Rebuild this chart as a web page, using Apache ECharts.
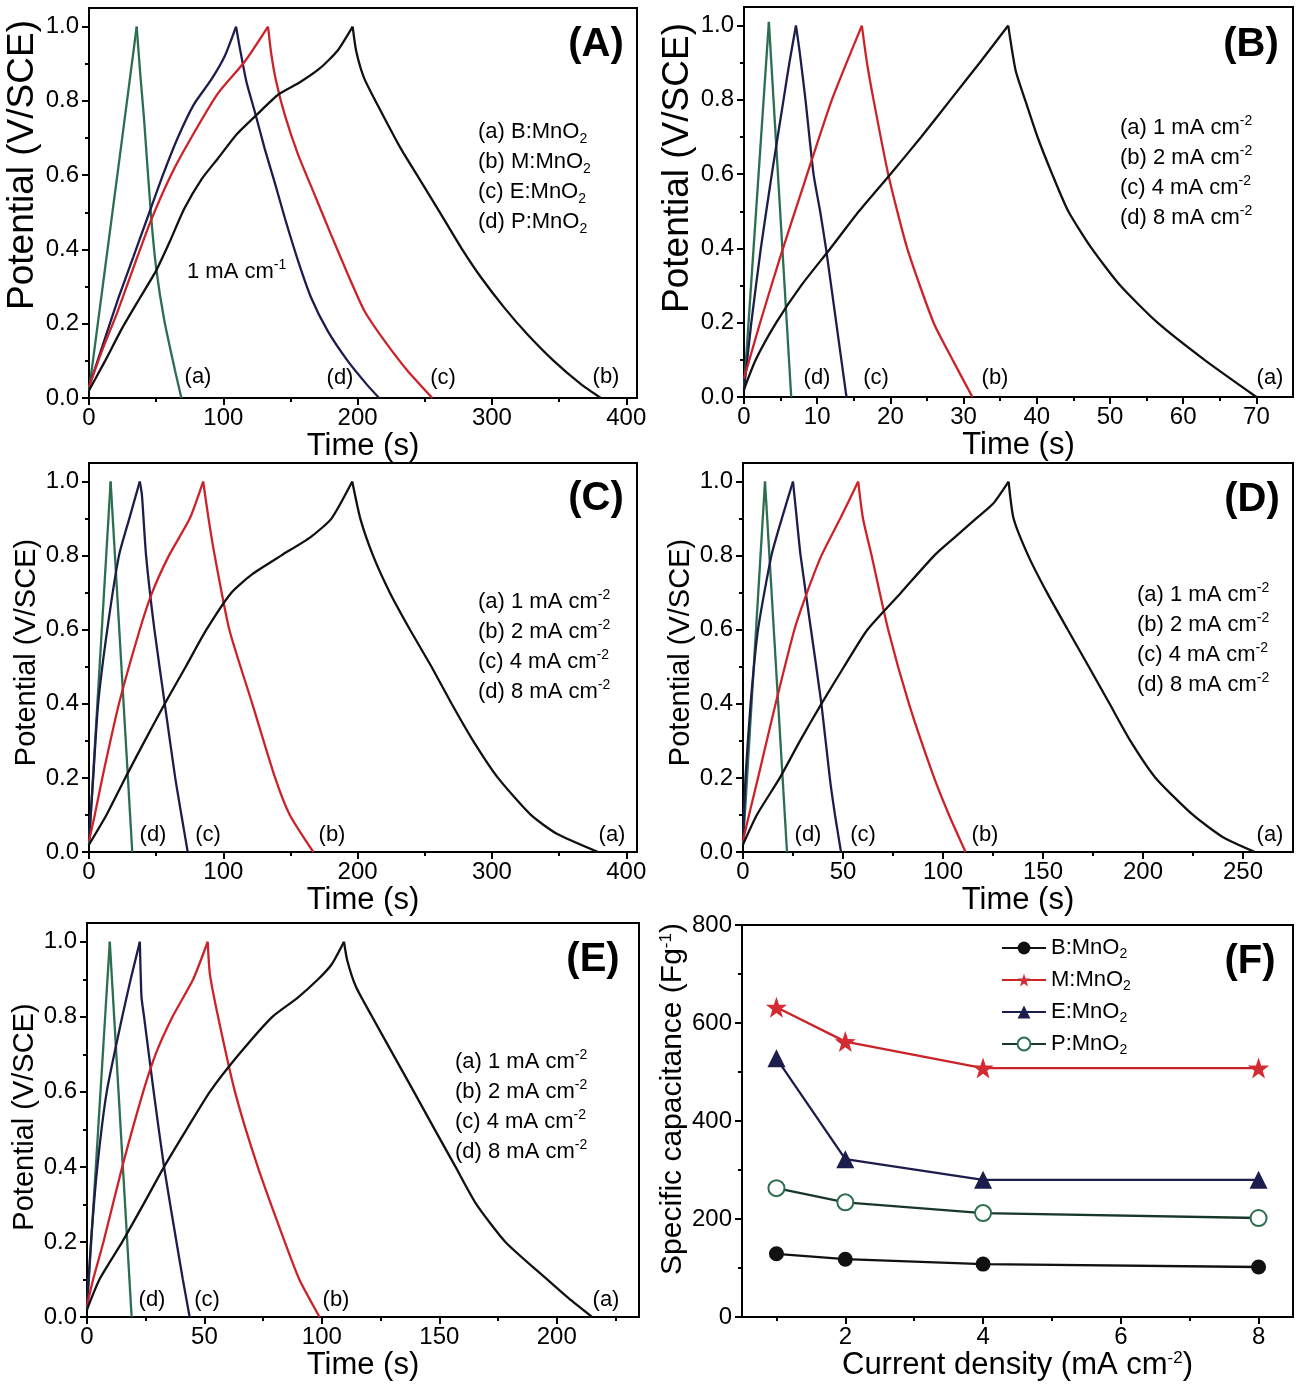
<!DOCTYPE html>
<html>
<head>
<meta charset="utf-8">
<script src="https://cdn.jsdelivr.net/npm/echarts@6/dist/echarts.min.js"></script>
<style>
html, body { margin: 0; padding: 0; background: #fff; }
#chart { width: 1301px; height: 1392px; }
</style>
</head>
<body>
<div id="chart"></div>
<script>
'use strict';

// ---- data: galvanostatic charge/discharge curves [time (s), potential (V)] ----
// (A) different MnO2 samples at 1 mA cm-1
var gcdA_a = [[0,0.02],[12,0.35],[24,0.68],[35.5,1.0],[38,0.88],[41,0.75],[46,0.5],[50,0.35],[56,0.21],[64,0.075],[68.8,0]];
var gcdA_b = [[0,0.02],[12,0.1],[25,0.19],[38,0.27],[50,0.343],[60,0.42],[71,0.51],[84,0.59],[96,0.645],[110,0.71],[125,0.763],[141,0.817],[157,0.85],[172,0.888],[185,0.935],[196.3,1.0],[199,0.933],[205,0.86],[217.6,0.77],[232.4,0.67],[247,0.584],[262,0.495],[277,0.405],[291.8,0.325],[309,0.244],[326,0.173],[346,0.10],[366,0.038],[381,0]];
var gcdA_c = [[0,0.03],[10,0.13],[21,0.23],[34,0.36],[46,0.477],[61,0.6],[76,0.7],[96,0.82],[116,0.906],[133.3,1.0],[135.8,0.924],[139.5,0.85],[145.7,0.763],[155.6,0.656],[167.9,0.548],[180.2,0.44],[192.6,0.334],[205,0.235],[219.8,0.155],[237,0.074],[255.6,0]];
var gcdA_d = [[0,0.03],[10,0.14],[22,0.27],[33,0.38],[44,0.49],[55,0.6],[66,0.7],[78,0.79],[91,0.857],[101,0.92],[109.5,1.0],[112.4,0.94],[117.3,0.85],[123.5,0.77],[130.9,0.67],[138.3,0.58],[145.7,0.486],[155.6,0.37],[165.4,0.27],[177.8,0.18],[192.6,0.10],[207.4,0.034],[216,0]];
// (B) B:MnO2 at 1, 2, 4, 8 mA cm-2
var gcdB_a = [[0,0.02],[1.6,0.1],[4.4,0.2],[7.8,0.3],[11.8,0.4],[15.7,0.5],[20,0.6],[24.2,0.7],[28.2,0.8],[32.2,0.9],[36.1,1.0],[37.1,0.88],[38.4,0.8],[40.1,0.7],[42.1,0.6],[44.3,0.5],[47.5,0.4],[51.4,0.3],[56.5,0.2],[62.9,0.1],[70,0]];
var gcdB_b = [[0,0.05],[2.2,0.2],[5,0.38],[8.3,0.58],[12,0.8],[16.1,1.0],[16.8,0.9],[17.7,0.8],[19.7,0.6],[22.3,0.4],[25.9,0.2],[28.5,0.1],[31.2,0]];
var gcdB_c = [[0,0.02],[1.0,0.2],[2.3,0.4],[3.8,0.6],[5.4,0.8],[6.2,0.9],[7.1,1.0],[7.6,0.93],[8.4,0.8],[9.5,0.6],[10.4,0.5],[11.2,0.4],[12.6,0.2],[13.3,0.1],[14.0,0]];
var gcdB_d = [[0,0.02],[3.4,1.01],[6.45,0]];
// (C) M:MnO2
var gcdC_a = [[0,0.02],[13,0.1],[27,0.2],[41.5,0.3],[56.4,0.4],[72,0.5],[87.4,0.6],[106,0.7],[121.6,0.75],[143,0.8],[165,0.85],[180.5,0.9],[196,1.0],[202,0.9],[211.5,0.8],[224,0.7],[239,0.6],[255,0.5],[270,0.4],[286,0.3],[304.5,0.2],[329,0.1],[348,0.05],[379,0]];
var gcdC_b = [[0,0.03],[4.3,0.1],[9.9,0.2],[22.3,0.4],[37.8,0.6],[47,0.7],[59.5,0.8],[75,0.9],[85,1.0],[89,0.9],[93.6,0.8],[104.5,0.6],[121.6,0.4],[138.6,0.2],[149.5,0.1],[167,0]];
var gcdC_c = [[0,0.03],[3.1,0.2],[6.8,0.4],[13.6,0.6],[22.3,0.8],[30,0.9],[37.8,1.0],[39.4,0.964],[42.5,0.8],[48.7,0.6],[56.4,0.4],[64.2,0.2],[68.8,0.1],[73.5,0]];
var gcdC_d = [[0,0.02],[16.1,1.0],[32.2,0]];
// (D) E:MnO2
var gcdD_a = [[0,0.02],[6.9,0.1],[18.4,0.2],[28.5,0.3],[39.2,0.4],[50.5,0.5],[62.2,0.6],[79,0.7],[95.6,0.8],[106,0.85],[116.5,0.9],[125,0.94],[132.8,1.0],[135.3,0.9],[142.6,0.8],[152,0.7],[162.4,0.6],[172.9,0.5],[183.3,0.4],[193.7,0.3],[206.3,0.2],[225,0.1],[240,0.04],[256,0]];
var gcdD_b = [[0,0.03],[3,0.1],[7.5,0.2],[16.3,0.4],[25.7,0.6],[32,0.7],[39.2,0.8],[48.6,0.9],[57.6,1.0],[60,0.9],[64.3,0.8],[72.6,0.6],[83,0.4],[95.6,0.2],[103,0.1],[111.3,0]];
var gcdD_c = [[0,0.03],[1.25,0.2],[3.8,0.4],[7.5,0.6],[14.2,0.8],[19.4,0.9],[25,1.0],[26.5,0.92],[28.8,0.8],[34,0.6],[39.2,0.4],[43.4,0.2],[46,0.1],[49,0]];
var gcdD_d = [[0,0.02],[11,1.0],[22,0]];
// (E) P:MnO2
var gcdE_a = [[0,0.02],[5.3,0.1],[15,0.2],[24,0.3],[32.8,0.4],[42.4,0.5],[52.3,0.6],[64.7,0.7],[78.9,0.8],[89.5,0.85],[98.4,0.9],[104.2,0.94],[109.4,1.0],[110.8,0.95],[114.5,0.88],[121.4,0.8],[130.3,0.7],[139.2,0.6],[148,0.5],[156.9,0.4],[165.8,0.3],[178.1,0.2],[195.9,0.1],[205,0.05],[215,0]];
var gcdE_b = [[0,0.03],[2.6,0.1],[7,0.2],[15,0.4],[23.9,0.6],[29.2,0.7],[36.4,0.8],[45.2,0.9],[51.4,1.0],[52.3,0.915],[55.8,0.8],[63,0.6],[72.7,0.4],[84.2,0.2],[90.4,0.1],[99,0]];
var gcdE_c = [[0,0.03],[1.7,0.2],[4.4,0.4],[8.4,0.6],[15,0.8],[18.6,0.9],[22.5,1.0],[23.2,0.853],[24.3,0.8],[28.4,0.6],[32.8,0.4],[38.1,0.2],[40.8,0.1],[43.7,0]];
var gcdE_d = [[0,0.02],[9.7,1.0],[19,0]];

// (F) specific capacitance vs current density
var currentDensity = [1, 2, 4, 8];
var capB = [129, 118, 108, 102];
var capM = [632, 562, 508, 508];
var capE = [528, 322, 280, 280];
var capP = [263, 234, 212, 202];
var sampleNames = ['B:MnO2', 'M:MnO2', 'E:MnO2', 'P:MnO2'];

// tick values
var potTicks = [0, 0.2, 0.4, 0.6, 0.8, 1.0], potMinor = [0.1, 0.3, 0.5, 0.7, 0.9];
var timeTicksA = [0, 100, 200, 300, 400], timeMinorA = [50, 150, 250, 350];
var timeTicksB = [0, 10, 20, 30, 40, 50, 60, 70], timeMinorB = [5, 15, 25, 35, 45, 55, 65];
var timeTicksD = [0, 50, 100, 150, 200, 250], timeMinorD = [25, 75, 125, 175, 225];
var timeTicksE = [0, 50, 100, 150, 200], timeMinorE = [25, 75, 125, 175, 225];
var cdTicks = [2, 4, 6, 8], cdMinor = [1, 3, 5, 7];
var capTicks = [0, 200, 400, 600, 800], capMinor = [100, 300, 500, 700];

// legend / annotation texts
var legendSamples = ['(a) B:MnO{sub|2}', '(b) M:MnO{sub|2}', '(c) E:MnO{sub|2}', '(d) P:MnO{sub|2}'];
var legendRates = ['(a) 1 mA cm{sup|-2}', '(b) 2 mA cm{sup|-2}', '(c) 4 mA cm{sup|-2}', '(d) 8 mA cm{sup|-2}'];

var FONT = '"Liberation Sans", Arial, Helvetica, sans-serif';
var GREEN = '#2c6e50', NAVY = '#1d1d4d', RED = '#cc2229', BLACK = '#111111';

var grids = [], xAxes = [], yAxes = [], series = [], graphics = [];

var nameRich = {
	sup: { fontSize: 17, lineHeight: 16, verticalAlign: 'top', color: '#000', fontFamily: FONT }
};

function addAxis(list, gi, isX, range, major, minor, name, nameSize, nameGap, namePad, fmt) {
	var pos = isX ? 'bottom' : 'left';
	var idx = list.length;
	list.push({
		type: 'value', gridIndex: gi, position: pos, min: range[0], max: range[1],
		axisLine: { onZero: false, lineStyle: { color: '#000', width: 2 } },
		axisTick: { customValues: major, length: 7, lineStyle: { color: '#000', width: 2 } },
		axisLabel: { customValues: major, formatter: fmt, color: '#000', fontSize: 24, fontFamily: FONT, margin: isX ? 8 : 10 },
		splitLine: { show: false },
		name: name, nameLocation: 'middle', nameGap: nameGap, nameRotate: isX ? 0 : 90,
		nameTextStyle: { fontSize: nameSize, fontFamily: FONT, color: '#000', padding: namePad, rich: nameRich }
	});
	list.push({
		type: 'value', gridIndex: gi, position: pos, min: range[0], max: range[1],
		axisLine: { show: false },
		axisTick: { customValues: minor, length: 4, lineStyle: { color: '#000', width: 2 } },
		axisLabel: { show: false },
		splitLine: { show: false }
	});
	return idx;
}

function addGrid(box) {
	grids.push({ left: box[0], top: box[1], width: box[2], height: box[3], show: true,
		borderColor: '#000', borderWidth: 2, backgroundColor: 'transparent', containLabel: false });
	return grids.length - 1;
}

var potFmt = function (v) { return v.toFixed(1); };

// each curve is drawn as two smooth segments (charge / discharge) split at its peak
function gcdPanel(box, xMax, xTicks, xMinor, yNameSize, yPad, curves) {
	var gi = addGrid(box);
	var xi = addAxis(xAxes, gi, true, [0, xMax], xTicks, xMinor, 'Time (s)', 31, 18, [0, 0, 0, 0]);
	var yi = addAxis(yAxes, gi, false, [0, 1.05], potTicks, potMinor, 'Potential (V/SCE)', yNameSize, 46, yPad, potFmt);
	curves.forEach(function (c) {
		var pts = c[0], k = 0;
		pts.forEach(function (p, i) { if (p[1] > pts[k][1]) k = i; });
		[pts.slice(0, k + 1), pts.slice(k)].forEach(function (seg) {
			series.push({
				type: 'line', xAxisIndex: xi, yAxisIndex: yi, data: seg,
				showSymbol: false, symbol: 'none', smooth: 0.2,
				lineStyle: { color: c[1], width: 2.3 }, silent: true, z: 3
			});
		});
	});
}

gcdPanel([89, 8, 548, 390], 408, timeTicksA, timeMinorA, 37, [0, 0, 0, 76],
	[[gcdA_a, GREEN], [gcdA_d, NAVY], [gcdA_c, RED], [gcdA_b, BLACK]]);
gcdPanel([744, 7, 549, 390], 75, timeTicksB, timeMinorB, 37, [0, 0, 0, 68],
	[[gcdB_d, GREEN], [gcdB_c, NAVY], [gcdB_b, RED], [gcdB_a, BLACK]]);
gcdPanel([89, 463, 548, 389], 408, timeTicksA, timeMinorA, 29, [0, 0, 0, 10],
	[[gcdC_d, GREEN], [gcdC_c, NAVY], [gcdC_b, RED], [gcdC_a, BLACK]]);
gcdPanel([743, 463, 550, 389], 275, timeTicksD, timeMinorD, 29, [0, 0, 0, 10],
	[[gcdD_d, GREEN], [gcdD_c, NAVY], [gcdD_b, RED], [gcdD_a, BLACK]]);
gcdPanel([87, 923, 552, 394], 235, timeTicksE, timeMinorE, 29, [0, 0, 0, 6],
	[[gcdE_d, GREEN], [gcdE_c, NAVY], [gcdE_b, RED], [gcdE_a, BLACK]]);

// panel F
var giF = addGrid([742, 925, 551, 392]);
var xF = addAxis(xAxes, giF, true, [0.5, 8.5], cdTicks, cdMinor, 'Current density (mA cm{sup|-2})', 31, 28, [0, 0, 0, 0]);
var yF = addAxis(yAxes, giF, false, [0, 800], capTicks, capMinor, 'Specific capacitance (Fg{sup|-1})', 30, 40, [0, 0, 0, 44]);
var STAR = 'path://M0,-10L2.35,-3.24L9.51,-3.09L3.8,1.24L5.88,8.09L0,4L-5.88,8.09L-3.8,1.24L-9.51,-3.09L-2.35,-3.24Z';
var capSeries = [
	[capB, 'circle', 15, BLACK, BLACK],
	[capM, STAR, 21, '#d42a32', RED],
	[capE, 'triangle', 18, NAVY, NAVY],
	[capP, 'emptyCircle', 16, '#2c6e50', '#173828']
];
capSeries.forEach(function (s, i) {
	series.push({
		type: 'line', name: sampleNames[i], xAxisIndex: xF, yAxisIndex: yF,
		data: currentDensity.map(function (x, j) { return [x, s[0][j]]; }),
		symbol: s[1], symbolSize: s[2], showSymbol: true,
		itemStyle: { color: s[3], borderWidth: s[1] === 'emptyCircle' ? 1.8 : 0 },
		lineStyle: { color: s[4], width: 2.3 }, z: 4
	});
});

// ---- text annotations (pixel positions) ----
var subRich = {
	sub: { fontSize: 14, lineHeight: 12, verticalAlign: 'bottom', fontFamily: FONT, fill: '#000' },
	sup: { fontSize: 14, lineHeight: 14, verticalAlign: 'top', fontFamily: FONT, fill: '#000' }
};
function txt(x, y, text, size, align, bold) {
	graphics.push({
		type: 'text', x: x, y: y, z: 100, silent: true,
		style: {
			text: text, fill: '#000', fontSize: size, fontFamily: FONT,
			fontWeight: bold ? 'bold' : 'normal', align: align || 'center', verticalAlign: 'middle',
			lineHeight: 28, rich: subRich
		}
	});
}
function curveLabels(pos) {
	['(a)', '(b)', '(c)', '(d)'].forEach(function (t, i) { txt(pos[i][0], pos[i][1], t, 22); });
}
function legendBlock(x, y0, gap, lines) {
	lines.forEach(function (t, i) { txt(x, y0 + i * gap, t, 22, 'left'); });
}

// A
curveLabels([[198, 377], [606, 377], [443, 378], [340, 378]]);
legendBlock(478, 132, 30, legendSamples);
txt(187, 272, '1 mA cm{sup|-1}', 22, 'left');
txt(596, 45, '(A)', 40, 'center', true);
// B
curveLabels([[1270, 378], [995, 378], [876, 378], [817, 378]]);
legendBlock(1120, 128, 30, legendRates);
txt(1251, 45, '(B)', 40, 'center', true);
// C
curveLabels([[612, 835], [332, 835], [208, 835], [153, 835]]);
legendBlock(478, 602, 30, legendRates);
txt(596, 499, '(C)', 40, 'center', true);
// D
curveLabels([[1270, 835], [985, 835], [863, 835], [808, 835]]);
legendBlock(1137, 595, 30, legendRates);
txt(1252, 500, '(D)', 40, 'center', true);
// E
curveLabels([[606, 1300], [336, 1300], [207, 1300], [152, 1300]]);
legendBlock(455, 1062, 30, legendRates);
txt(593, 960, '(E)', 40, 'center', true);
// F
txt(1250, 962, '(F)', 40, 'center', true);

var chart = echarts.init(document.getElementById('chart'));
chart.setOption({
	animation: false,
	backgroundColor: '#fff',
	grid: grids,
	xAxis: xAxes,
	yAxis: yAxes,
	series: series,
	legend: {
		left: 996, top: 930, orient: 'vertical', itemGap: 6, itemWidth: 44, itemHeight: 16,
		selectedMode: false,
		data: sampleNames,
		formatter: function (n) { return n.slice(0, -1) + '{sub|2}'; },
		textStyle: {
			fontSize: 22, fontFamily: FONT, color: '#000', lineHeight: 26,
			rich: { sub: { fontSize: 14, lineHeight: 10, verticalAlign: 'bottom', color: '#000', fontFamily: FONT } }
		}
	},
	graphic: graphics
});
</script>
</body>
</html>
